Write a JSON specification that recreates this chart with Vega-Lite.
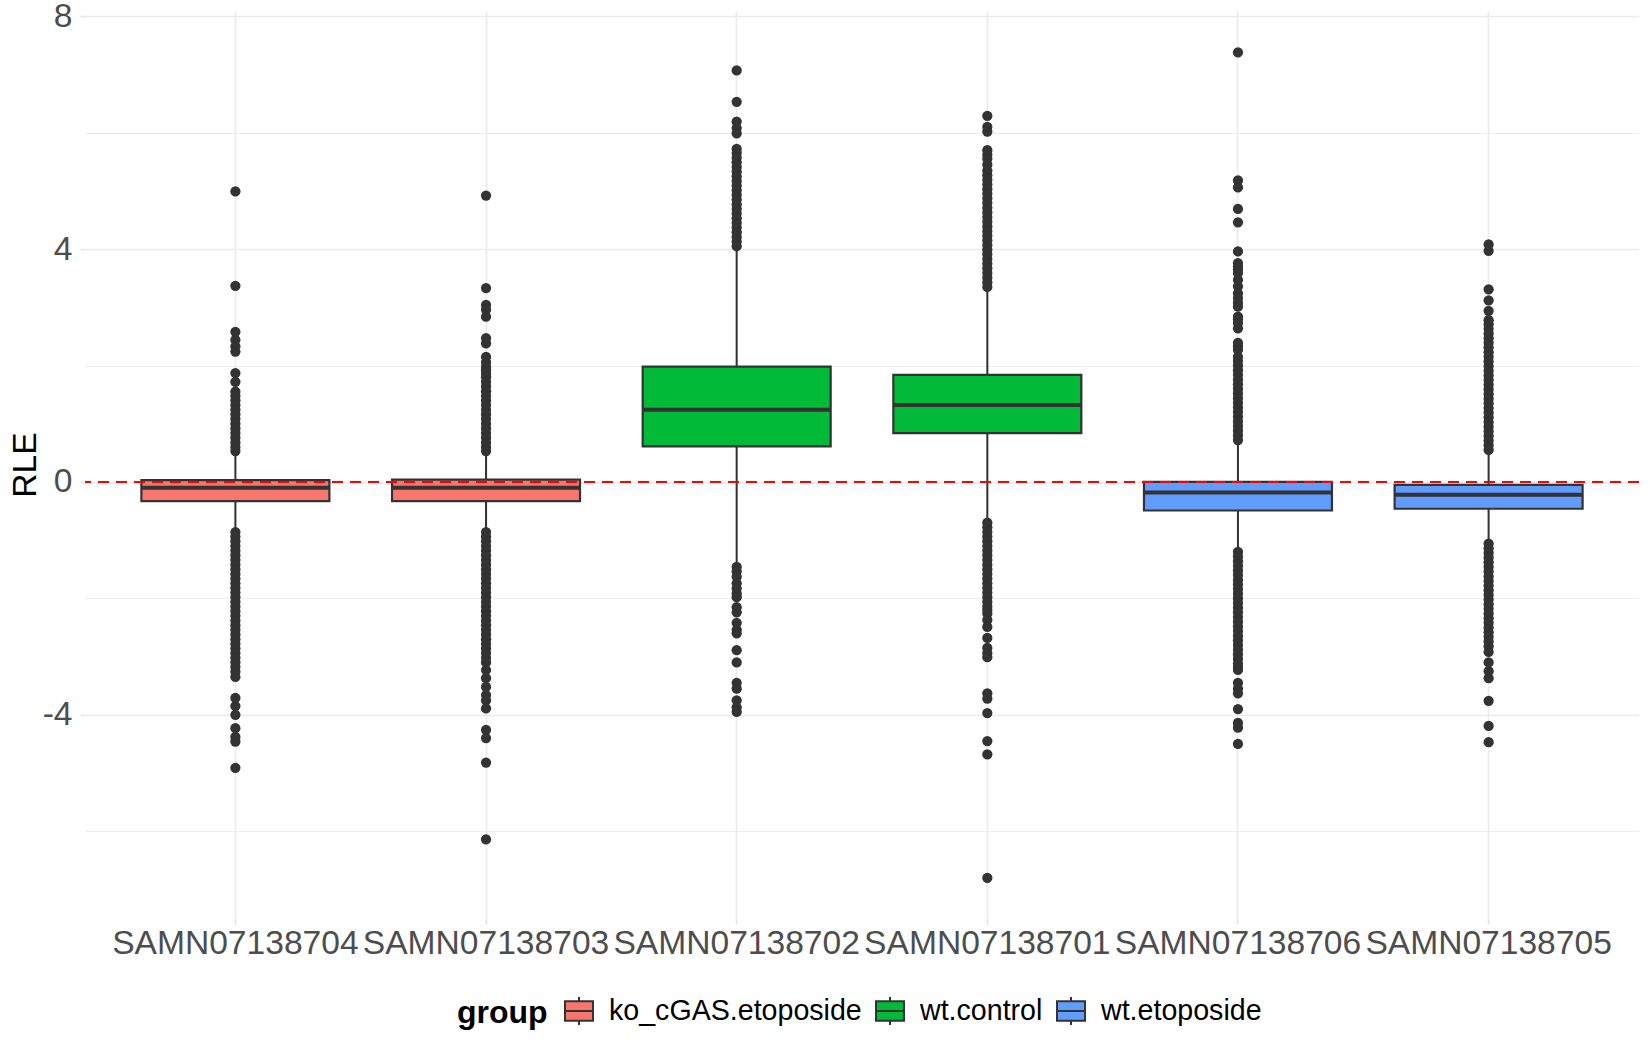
{
  "$schema": "https://vega.github.io/schema/vega-lite/v6.json",
  "width": 1554,
  "height": 907,
  "autosize": "none",
  "padding": {"left": 85, "top": 11, "right": 11, "bottom": 132},
  "config": {"view": {"stroke": null}, "font": "Liberation Sans"},
  "datasets": {
    "boxes": [
      {"sample": "SAMN07138704", "group": "ko_cGAS.etoposide", "lower": -0.80, "q1": -0.33, "median": -0.10, "q3": 0.03, "upper": 0.50},
      {"sample": "SAMN07138703", "group": "ko_cGAS.etoposide", "lower": -0.80, "q1": -0.33, "median": -0.10, "q3": 0.04, "upper": 0.50},
      {"sample": "SAMN07138702", "group": "wt.control", "lower": -1.40, "q1": 0.61, "median": 1.24, "q3": 1.98, "upper": 3.99},
      {"sample": "SAMN07138701", "group": "wt.control", "lower": -0.65, "q1": 0.84, "median": 1.32, "q3": 1.84, "upper": 3.30},
      {"sample": "SAMN07138706", "group": "wt.etoposide", "lower": -1.17, "q1": -0.49, "median": -0.18, "q3": 0.00, "upper": 0.69},
      {"sample": "SAMN07138705", "group": "wt.etoposide", "lower": -1.03, "q1": -0.46, "median": -0.22, "q3": -0.05, "upper": 0.52}
    ],
    "outliers": [
      {"s": "SAMN07138704", "v": 4.99}, {"s": "SAMN07138704", "v": 3.37}, {"s": "SAMN07138704", "v": 2.58}, {"s": "SAMN07138704", "v": 2.44},
      {"s": "SAMN07138704", "v": 2.33}, {"s": "SAMN07138704", "v": 2.24}, {"s": "SAMN07138704", "v": 1.87}, {"s": "SAMN07138704", "v": 1.72},
      {"s": "SAMN07138704", "v": 1.55}, {"s": "SAMN07138704", "v": 1.48}, {"s": "SAMN07138704", "v": 1.40}, {"s": "SAMN07138704", "v": 1.32},
      {"s": "SAMN07138704", "v": 1.24}, {"s": "SAMN07138704", "v": 1.16}, {"s": "SAMN07138704", "v": 1.08}, {"s": "SAMN07138704", "v": 1.00},
      {"s": "SAMN07138704", "v": 0.92}, {"s": "SAMN07138704", "v": 0.84}, {"s": "SAMN07138704", "v": 0.76}, {"s": "SAMN07138704", "v": 0.68},
      {"s": "SAMN07138704", "v": 0.60}, {"s": "SAMN07138704", "v": 0.53},
      {"s": "SAMN07138704", "v": -0.86}, {"s": "SAMN07138704", "v": -0.94}, {"s": "SAMN07138704", "v": -1.02}, {"s": "SAMN07138704", "v": -1.10},
      {"s": "SAMN07138704", "v": -1.18}, {"s": "SAMN07138704", "v": -1.26}, {"s": "SAMN07138704", "v": -1.34}, {"s": "SAMN07138704", "v": -1.42},
      {"s": "SAMN07138704", "v": -1.50}, {"s": "SAMN07138704", "v": -1.58}, {"s": "SAMN07138704", "v": -1.66}, {"s": "SAMN07138704", "v": -1.74},
      {"s": "SAMN07138704", "v": -1.82}, {"s": "SAMN07138704", "v": -1.90}, {"s": "SAMN07138704", "v": -1.98}, {"s": "SAMN07138704", "v": -2.06},
      {"s": "SAMN07138704", "v": -2.14}, {"s": "SAMN07138704", "v": -2.22}, {"s": "SAMN07138704", "v": -2.30}, {"s": "SAMN07138704", "v": -2.38},
      {"s": "SAMN07138704", "v": -2.46}, {"s": "SAMN07138704", "v": -2.54}, {"s": "SAMN07138704", "v": -2.62}, {"s": "SAMN07138704", "v": -2.70},
      {"s": "SAMN07138704", "v": -2.78}, {"s": "SAMN07138704", "v": -2.86}, {"s": "SAMN07138704", "v": -2.94}, {"s": "SAMN07138704", "v": -3.02},
      {"s": "SAMN07138704", "v": -3.10}, {"s": "SAMN07138704", "v": -3.18}, {"s": "SAMN07138704", "v": -3.26}, {"s": "SAMN07138704", "v": -3.35},
      {"s": "SAMN07138704", "v": -3.71}, {"s": "SAMN07138704", "v": -3.85}, {"s": "SAMN07138704", "v": -4.00}, {"s": "SAMN07138704", "v": -4.23},
      {"s": "SAMN07138704", "v": -4.38}, {"s": "SAMN07138704", "v": -4.46}, {"s": "SAMN07138704", "v": -4.91},

      {"s": "SAMN07138703", "v": 4.92}, {"s": "SAMN07138703", "v": 3.33}, {"s": "SAMN07138703", "v": 3.04}, {"s": "SAMN07138703", "v": 2.96},
      {"s": "SAMN07138703", "v": 2.84}, {"s": "SAMN07138703", "v": 2.47}, {"s": "SAMN07138703", "v": 2.38}, {"s": "SAMN07138703", "v": 2.15},
      {"s": "SAMN07138703", "v": 2.06}, {"s": "SAMN07138703", "v": 1.98}, {"s": "SAMN07138703", "v": 1.92}, {"s": "SAMN07138703", "v": 1.86},
      {"s": "SAMN07138703", "v": 1.80}, {"s": "SAMN07138703", "v": 1.72}, {"s": "SAMN07138703", "v": 1.64}, {"s": "SAMN07138703", "v": 1.56},
      {"s": "SAMN07138703", "v": 1.48}, {"s": "SAMN07138703", "v": 1.40}, {"s": "SAMN07138703", "v": 1.32}, {"s": "SAMN07138703", "v": 1.24},
      {"s": "SAMN07138703", "v": 1.16}, {"s": "SAMN07138703", "v": 1.08}, {"s": "SAMN07138703", "v": 1.00}, {"s": "SAMN07138703", "v": 0.92},
      {"s": "SAMN07138703", "v": 0.84}, {"s": "SAMN07138703", "v": 0.76}, {"s": "SAMN07138703", "v": 0.68}, {"s": "SAMN07138703", "v": 0.60},
      {"s": "SAMN07138703", "v": 0.53},
      {"s": "SAMN07138703", "v": -0.86}, {"s": "SAMN07138703", "v": -0.94}, {"s": "SAMN07138703", "v": -1.02}, {"s": "SAMN07138703", "v": -1.10},
      {"s": "SAMN07138703", "v": -1.18}, {"s": "SAMN07138703", "v": -1.26}, {"s": "SAMN07138703", "v": -1.34}, {"s": "SAMN07138703", "v": -1.42},
      {"s": "SAMN07138703", "v": -1.50}, {"s": "SAMN07138703", "v": -1.58}, {"s": "SAMN07138703", "v": -1.66}, {"s": "SAMN07138703", "v": -1.74},
      {"s": "SAMN07138703", "v": -1.82}, {"s": "SAMN07138703", "v": -1.90}, {"s": "SAMN07138703", "v": -1.98}, {"s": "SAMN07138703", "v": -2.06},
      {"s": "SAMN07138703", "v": -2.14}, {"s": "SAMN07138703", "v": -2.22}, {"s": "SAMN07138703", "v": -2.30}, {"s": "SAMN07138703", "v": -2.38},
      {"s": "SAMN07138703", "v": -2.46}, {"s": "SAMN07138703", "v": -2.54}, {"s": "SAMN07138703", "v": -2.62}, {"s": "SAMN07138703", "v": -2.70},
      {"s": "SAMN07138703", "v": -2.78}, {"s": "SAMN07138703", "v": -2.86}, {"s": "SAMN07138703", "v": -2.94}, {"s": "SAMN07138703", "v": -3.02},
      {"s": "SAMN07138703", "v": -3.10}, {"s": "SAMN07138703", "v": -3.23}, {"s": "SAMN07138703", "v": -3.37}, {"s": "SAMN07138703", "v": -3.52},
      {"s": "SAMN07138703", "v": -3.66}, {"s": "SAMN07138703", "v": -3.75}, {"s": "SAMN07138703", "v": -3.89}, {"s": "SAMN07138703", "v": -4.26},
      {"s": "SAMN07138703", "v": -4.40}, {"s": "SAMN07138703", "v": -4.82}, {"s": "SAMN07138703", "v": -6.14},

      {"s": "SAMN07138702", "v": 7.07}, {"s": "SAMN07138702", "v": 6.53}, {"s": "SAMN07138702", "v": 6.19}, {"s": "SAMN07138702", "v": 6.08},
      {"s": "SAMN07138702", "v": 5.99}, {"s": "SAMN07138702", "v": 5.72}, {"s": "SAMN07138702", "v": 5.65}, {"s": "SAMN07138702", "v": 5.57},
      {"s": "SAMN07138702", "v": 5.49}, {"s": "SAMN07138702", "v": 5.41}, {"s": "SAMN07138702", "v": 5.33}, {"s": "SAMN07138702", "v": 5.25},
      {"s": "SAMN07138702", "v": 5.17}, {"s": "SAMN07138702", "v": 5.09}, {"s": "SAMN07138702", "v": 5.01}, {"s": "SAMN07138702", "v": 4.93},
      {"s": "SAMN07138702", "v": 4.85}, {"s": "SAMN07138702", "v": 4.77}, {"s": "SAMN07138702", "v": 4.69}, {"s": "SAMN07138702", "v": 4.61},
      {"s": "SAMN07138702", "v": 4.53}, {"s": "SAMN07138702", "v": 4.45}, {"s": "SAMN07138702", "v": 4.37}, {"s": "SAMN07138702", "v": 4.29},
      {"s": "SAMN07138702", "v": 4.21}, {"s": "SAMN07138702", "v": 4.13}, {"s": "SAMN07138702", "v": 4.05},
      {"s": "SAMN07138702", "v": -1.46}, {"s": "SAMN07138702", "v": -1.54}, {"s": "SAMN07138702", "v": -1.63}, {"s": "SAMN07138702", "v": -1.74},
      {"s": "SAMN07138702", "v": -1.83}, {"s": "SAMN07138702", "v": -1.92}, {"s": "SAMN07138702", "v": -1.98}, {"s": "SAMN07138702", "v": -2.15},
      {"s": "SAMN07138702", "v": -2.24}, {"s": "SAMN07138702", "v": -2.42}, {"s": "SAMN07138702", "v": -2.54}, {"s": "SAMN07138702", "v": -2.60},
      {"s": "SAMN07138702", "v": -2.89}, {"s": "SAMN07138702", "v": -3.10}, {"s": "SAMN07138702", "v": -3.45}, {"s": "SAMN07138702", "v": -3.55},
      {"s": "SAMN07138702", "v": -3.75}, {"s": "SAMN07138702", "v": -3.87}, {"s": "SAMN07138702", "v": -3.95},

      {"s": "SAMN07138701", "v": 6.29}, {"s": "SAMN07138701", "v": 6.10}, {"s": "SAMN07138701", "v": 6.02}, {"s": "SAMN07138701", "v": 5.70},
      {"s": "SAMN07138701", "v": 5.62}, {"s": "SAMN07138701", "v": 5.55}, {"s": "SAMN07138701", "v": 5.45}, {"s": "SAMN07138701", "v": 5.35},
      {"s": "SAMN07138701", "v": 5.27}, {"s": "SAMN07138701", "v": 5.19}, {"s": "SAMN07138701", "v": 5.11}, {"s": "SAMN07138701", "v": 5.03},
      {"s": "SAMN07138701", "v": 4.95}, {"s": "SAMN07138701", "v": 4.87}, {"s": "SAMN07138701", "v": 4.79}, {"s": "SAMN07138701", "v": 4.71},
      {"s": "SAMN07138701", "v": 4.63}, {"s": "SAMN07138701", "v": 4.55}, {"s": "SAMN07138701", "v": 4.47}, {"s": "SAMN07138701", "v": 4.39},
      {"s": "SAMN07138701", "v": 4.31}, {"s": "SAMN07138701", "v": 4.23}, {"s": "SAMN07138701", "v": 4.15}, {"s": "SAMN07138701", "v": 4.07},
      {"s": "SAMN07138701", "v": 3.99}, {"s": "SAMN07138701", "v": 3.91}, {"s": "SAMN07138701", "v": 3.83}, {"s": "SAMN07138701", "v": 3.75},
      {"s": "SAMN07138701", "v": 3.67}, {"s": "SAMN07138701", "v": 3.59}, {"s": "SAMN07138701", "v": 3.51}, {"s": "SAMN07138701", "v": 3.43},
      {"s": "SAMN07138701", "v": 3.35},
      {"s": "SAMN07138701", "v": -0.70}, {"s": "SAMN07138701", "v": -0.78}, {"s": "SAMN07138701", "v": -0.86}, {"s": "SAMN07138701", "v": -0.94},
      {"s": "SAMN07138701", "v": -1.02}, {"s": "SAMN07138701", "v": -1.10}, {"s": "SAMN07138701", "v": -1.18}, {"s": "SAMN07138701", "v": -1.26},
      {"s": "SAMN07138701", "v": -1.34}, {"s": "SAMN07138701", "v": -1.42}, {"s": "SAMN07138701", "v": -1.50}, {"s": "SAMN07138701", "v": -1.58},
      {"s": "SAMN07138701", "v": -1.66}, {"s": "SAMN07138701", "v": -1.74}, {"s": "SAMN07138701", "v": -1.82}, {"s": "SAMN07138701", "v": -1.90},
      {"s": "SAMN07138701", "v": -1.98}, {"s": "SAMN07138701", "v": -2.06}, {"s": "SAMN07138701", "v": -2.14}, {"s": "SAMN07138701", "v": -2.20},
      {"s": "SAMN07138701", "v": -2.26}, {"s": "SAMN07138701", "v": -2.37}, {"s": "SAMN07138701", "v": -2.49}, {"s": "SAMN07138701", "v": -2.68},
      {"s": "SAMN07138701", "v": -2.85}, {"s": "SAMN07138701", "v": -2.94}, {"s": "SAMN07138701", "v": -3.01}, {"s": "SAMN07138701", "v": -3.63},
      {"s": "SAMN07138701", "v": -3.72}, {"s": "SAMN07138701", "v": -3.97}, {"s": "SAMN07138701", "v": -4.45}, {"s": "SAMN07138701", "v": -4.68},
      {"s": "SAMN07138701", "v": -6.80},

      {"s": "SAMN07138706", "v": 7.38}, {"s": "SAMN07138706", "v": 5.18}, {"s": "SAMN07138706", "v": 5.06}, {"s": "SAMN07138706", "v": 4.69},
      {"s": "SAMN07138706", "v": 4.46}, {"s": "SAMN07138706", "v": 3.96}, {"s": "SAMN07138706", "v": 3.76}, {"s": "SAMN07138706", "v": 3.70},
      {"s": "SAMN07138706", "v": 3.65}, {"s": "SAMN07138706", "v": 3.59}, {"s": "SAMN07138706", "v": 3.47}, {"s": "SAMN07138706", "v": 3.36},
      {"s": "SAMN07138706", "v": 3.24}, {"s": "SAMN07138706", "v": 3.16}, {"s": "SAMN07138706", "v": 3.08}, {"s": "SAMN07138706", "v": 3.01},
      {"s": "SAMN07138706", "v": 2.84}, {"s": "SAMN07138706", "v": 2.79}, {"s": "SAMN07138706", "v": 2.73}, {"s": "SAMN07138706", "v": 2.64},
      {"s": "SAMN07138706", "v": 2.39}, {"s": "SAMN07138706", "v": 2.33}, {"s": "SAMN07138706", "v": 2.27}, {"s": "SAMN07138706", "v": 2.15},
      {"s": "SAMN07138706", "v": 2.08}, {"s": "SAMN07138706", "v": 2.00}, {"s": "SAMN07138706", "v": 1.92}, {"s": "SAMN07138706", "v": 1.84},
      {"s": "SAMN07138706", "v": 1.76}, {"s": "SAMN07138706", "v": 1.68}, {"s": "SAMN07138706", "v": 1.60}, {"s": "SAMN07138706", "v": 1.52},
      {"s": "SAMN07138706", "v": 1.44}, {"s": "SAMN07138706", "v": 1.36}, {"s": "SAMN07138706", "v": 1.28}, {"s": "SAMN07138706", "v": 1.20},
      {"s": "SAMN07138706", "v": 1.12}, {"s": "SAMN07138706", "v": 1.04}, {"s": "SAMN07138706", "v": 0.96}, {"s": "SAMN07138706", "v": 0.88},
      {"s": "SAMN07138706", "v": 0.80}, {"s": "SAMN07138706", "v": 0.72},
      {"s": "SAMN07138706", "v": -1.20}, {"s": "SAMN07138706", "v": -1.28}, {"s": "SAMN07138706", "v": -1.36}, {"s": "SAMN07138706", "v": -1.44},
      {"s": "SAMN07138706", "v": -1.52}, {"s": "SAMN07138706", "v": -1.60}, {"s": "SAMN07138706", "v": -1.68}, {"s": "SAMN07138706", "v": -1.76},
      {"s": "SAMN07138706", "v": -1.84}, {"s": "SAMN07138706", "v": -1.92}, {"s": "SAMN07138706", "v": -2.00}, {"s": "SAMN07138706", "v": -2.08},
      {"s": "SAMN07138706", "v": -2.16}, {"s": "SAMN07138706", "v": -2.24}, {"s": "SAMN07138706", "v": -2.32}, {"s": "SAMN07138706", "v": -2.40},
      {"s": "SAMN07138706", "v": -2.48}, {"s": "SAMN07138706", "v": -2.56}, {"s": "SAMN07138706", "v": -2.64}, {"s": "SAMN07138706", "v": -2.72},
      {"s": "SAMN07138706", "v": -2.80}, {"s": "SAMN07138706", "v": -2.88}, {"s": "SAMN07138706", "v": -2.96}, {"s": "SAMN07138706", "v": -3.04},
      {"s": "SAMN07138706", "v": -3.12}, {"s": "SAMN07138706", "v": -3.18}, {"s": "SAMN07138706", "v": -3.23}, {"s": "SAMN07138706", "v": -3.45},
      {"s": "SAMN07138706", "v": -3.55}, {"s": "SAMN07138706", "v": -3.63}, {"s": "SAMN07138706", "v": -3.90}, {"s": "SAMN07138706", "v": -4.14},
      {"s": "SAMN07138706", "v": -4.22}, {"s": "SAMN07138706", "v": -4.50},

      {"s": "SAMN07138705", "v": 4.08}, {"s": "SAMN07138705", "v": 3.97}, {"s": "SAMN07138705", "v": 3.31}, {"s": "SAMN07138705", "v": 3.12},
      {"s": "SAMN07138705", "v": 2.94}, {"s": "SAMN07138705", "v": 2.78}, {"s": "SAMN07138705", "v": 2.71}, {"s": "SAMN07138705", "v": 2.63},
      {"s": "SAMN07138705", "v": 2.55}, {"s": "SAMN07138705", "v": 2.47}, {"s": "SAMN07138705", "v": 2.39}, {"s": "SAMN07138705", "v": 2.31},
      {"s": "SAMN07138705", "v": 2.23}, {"s": "SAMN07138705", "v": 2.15}, {"s": "SAMN07138705", "v": 2.07}, {"s": "SAMN07138705", "v": 1.99},
      {"s": "SAMN07138705", "v": 1.91}, {"s": "SAMN07138705", "v": 1.83}, {"s": "SAMN07138705", "v": 1.75}, {"s": "SAMN07138705", "v": 1.67},
      {"s": "SAMN07138705", "v": 1.59}, {"s": "SAMN07138705", "v": 1.51}, {"s": "SAMN07138705", "v": 1.43}, {"s": "SAMN07138705", "v": 1.35},
      {"s": "SAMN07138705", "v": 1.27}, {"s": "SAMN07138705", "v": 1.19}, {"s": "SAMN07138705", "v": 1.11}, {"s": "SAMN07138705", "v": 1.03},
      {"s": "SAMN07138705", "v": 0.95}, {"s": "SAMN07138705", "v": 0.87}, {"s": "SAMN07138705", "v": 0.79}, {"s": "SAMN07138705", "v": 0.71},
      {"s": "SAMN07138705", "v": 0.63}, {"s": "SAMN07138705", "v": 0.55},
      {"s": "SAMN07138705", "v": -1.06}, {"s": "SAMN07138705", "v": -1.14}, {"s": "SAMN07138705", "v": -1.22}, {"s": "SAMN07138705", "v": -1.30},
      {"s": "SAMN07138705", "v": -1.38}, {"s": "SAMN07138705", "v": -1.46}, {"s": "SAMN07138705", "v": -1.54}, {"s": "SAMN07138705", "v": -1.62},
      {"s": "SAMN07138705", "v": -1.70}, {"s": "SAMN07138705", "v": -1.78}, {"s": "SAMN07138705", "v": -1.86}, {"s": "SAMN07138705", "v": -1.94},
      {"s": "SAMN07138705", "v": -2.02}, {"s": "SAMN07138705", "v": -2.10}, {"s": "SAMN07138705", "v": -2.18}, {"s": "SAMN07138705", "v": -2.26},
      {"s": "SAMN07138705", "v": -2.34}, {"s": "SAMN07138705", "v": -2.42}, {"s": "SAMN07138705", "v": -2.50}, {"s": "SAMN07138705", "v": -2.58},
      {"s": "SAMN07138705", "v": -2.66}, {"s": "SAMN07138705", "v": -2.74}, {"s": "SAMN07138705", "v": -2.82}, {"s": "SAMN07138705", "v": -2.92},
      {"s": "SAMN07138705", "v": -3.10}, {"s": "SAMN07138705", "v": -3.25}, {"s": "SAMN07138705", "v": -3.37}, {"s": "SAMN07138705", "v": -3.76},
      {"s": "SAMN07138705", "v": -4.19}, {"s": "SAMN07138705", "v": -4.47}
    ]
  },
  "layer": [
    {
      "data": {"name": "boxes"},
      "mark": {"type": "rule", "color": "#333333", "strokeWidth": 2},
      "encoding": {
        "x": {
          "field": "sample", "type": "nominal", "title": null,
          "scale": {
            "type": "band",
            "domain": ["SAMN07138704", "SAMN07138703", "SAMN07138702", "SAMN07138701", "SAMN07138706", "SAMN07138705"],
            "paddingInner": 0, "paddingOuter": 0.1
          },
          "axis": {
            "bandPosition": 0.5, "labelAngle": 0, "labelFontSize": 33.6, "labelColor": "#4D4D4D",
            "labelBaseline": "alphabetic", "labelPadding": 29, "labelOverlap": false, "labelLimit": 0,
            "tickSize": 6, "tickColor": "#E3E3E3", "tickWidth": 1.5,
            "grid": true, "gridColor": "#EBEBEB", "gridWidth": 1.6, "domain": false
          }
        },
        "y": {
          "field": "lower", "type": "quantitative", "title": "RLE",
          "scale": {"domain": [-7.49, 8.09], "nice": false, "zero": false},
          "axis": {
            "values": [-6, -4, -2, 0, 2, 4, 6, 8],
            "labelExpr": "datum.value % 4 === 0 ? '' + datum.value : ''",
            "labelFontSize": 33.6, "labelColor": "#4D4D4D", "labelPadding": 8,
            "tickSize": 5, "tickColor": "#E3E3E3", "tickWidth": 1.5,
            "tickOpacity": {"condition": {"test": "datum.value % 4 === 0", "value": 1}, "value": 0},
            "grid": true, "gridColor": "#EBEBEB",
            "gridWidth": {"condition": {"test": "datum.value % 4 === 0", "value": 1.6}, "value": 0.9},
            "domain": false,
            "titleFontSize": 33.6, "titleColor": "#000000", "titleFontWeight": "normal",
            "titleAngle": -90, "titleX": -50, "titleY": 453.5, "titleAlign": "center", "titleBaseline": "alphabetic"
          }
        },
        "y2": {"field": "upper"}
      }
    },
    {
      "data": {"name": "boxes"},
      "mark": {"type": "bar", "stroke": "#333333", "strokeWidth": 2.2, "width": {"band": 0.75}, "opacity": 1},
      "encoding": {
        "x": {"field": "sample", "type": "nominal", "title": null},
        "y": {"field": "q1", "type": "quantitative", "title": "RLE"},
        "y2": {"field": "q3"},
        "fill": {
          "field": "group", "type": "nominal",
          "scale": {"domain": ["ko_cGAS.etoposide", "wt.control", "wt.etoposide"], "range": ["#F8766D", "#00BA38", "#619CFF"]},
          "legend": {
            "title": "group", "orient": "none", "legendX": 372, "legendY": 985,
            "direction": "horizontal", "titleOrient": "left",
            "titleFontSize": 32, "titleFontWeight": "bold", "titleColor": "#000000",
            "labelFontSize": 28.6, "labelColor": "#000000", "labelLimit": 0,
            "symbolType": "M-1,-0.7H1V0.7H-1Z M-1,0H1 M0,-0.7V-1 M0,0.7V1",
            "symbolSize": 784, "symbolStrokeColor": "#333333", "symbolStrokeWidth": 2, "symbolOpacity": 1,
            "labelOffset": 15, "columnPadding": 10, "titlePadding": 16
          }
        }
      }
    },
    {
      "data": {"name": "boxes"},
      "mark": {"type": "tick", "color": "#333333", "thickness": 4, "size": 188, "orient": "horizontal", "opacity": 1},
      "encoding": {
        "x": {"field": "sample", "type": "nominal", "title": null},
        "y": {"field": "median", "type": "quantitative", "title": "RLE"}
      }
    },
    {
      "data": {"name": "outliers"},
      "mark": {"type": "circle", "color": "#333333", "opacity": 1, "size": 105},
      "encoding": {
        "x": {"field": "s", "type": "nominal", "title": null},
        "y": {"field": "v", "type": "quantitative", "title": "RLE"}
      }
    },
    {
      "data": {"values": [{}]},
      "mark": {"type": "rule", "color": "#FF0000", "strokeDash": [11, 7], "strokeWidth": 2},
      "encoding": {"y": {"datum": 0}}
    }
  ]
}
